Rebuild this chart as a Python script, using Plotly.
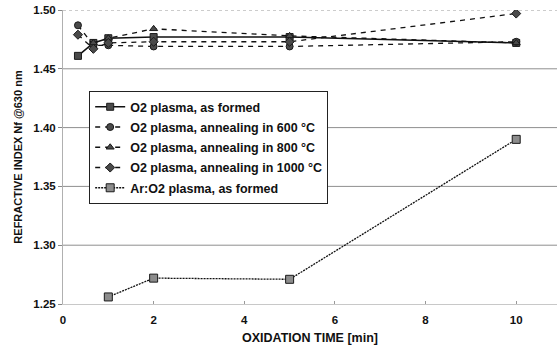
import plotly.graph_objects as go

# Oxidation time [min]
t_o2 = [0.33, 0.67, 1, 2, 5, 10]
t_600 = [0.33, 0.67, 1, 2, 5, 10]
t_800 = [0.67, 1, 2, 5, 10]
t_1000 = [0.33, 0.67, 1, 2, 5, 10]
t_ar = [1, 2, 5, 10]

# Refractive index Nf @630 nm
n_o2 = [1.461, 1.472, 1.476, 1.477, 1.477, 1.472]
n_600 = [1.487, 1.470, 1.470, 1.469, 1.469, 1.473]
n_800 = [1.472, 1.476, 1.484, 1.478, 1.472]
n_1000 = [1.479, 1.467, 1.472, 1.473, 1.473, 1.497]
n_ar = [1.256, 1.272, 1.271, 1.390]

names = [
    "O2 plasma, as formed",
    "O2 plasma, annealing in 600 °C",
    "O2 plasma, annealing in 800 °C",
    "O2 plasma, annealing in 1000 °C",
    "Ar:O2 plasma, as formed",
]

y_ticks = [1.25, 1.30, 1.35, 1.40, 1.45, 1.50]
x_ticks = [0, 2, 4, 6, 8, 10]
X_MAX = 10.9

FONT = "Liberation Sans, Arial, sans-serif"
mk_fill = "#4a4a4a"
mk_line = "#1a1a1a"

fig = go.Figure()

series = [
    (t_o2, n_o2, "solid", "square", 7, mk_fill),
    (t_600, n_600, "5px,5px", "circle", 7, mk_fill),
    (t_800, n_800, "5px,5px", "triangle-up", 7, mk_fill),
    (t_1000, n_1000, "5px,5px", "diamond", 7, mk_fill),
    (t_ar, n_ar, "2px,1px", "square", 8, "#8c8c8c"),
]

for i, ((xs, ys, dash, sym, size, fill), name) in enumerate(zip(series, names)):
    fig.add_trace(go.Scatter(
        x=xs, y=ys, name=name, mode="lines+markers", legendgroup=f"g{i}",
        line=dict(color="#111111", width=1.6 if dash == "solid" else 1.3, dash=dash),
        marker=dict(symbol=sym, size=size, color=fill,
                    line=dict(color=mk_line, width=1)),
    ))

# horizontal reference lines; the top boundary is dotted
shapes = []
for yv in y_ticks[1:-1]:
    shapes.append(dict(type="line", xref="paper", yref="y", x0=0, x1=1,
                       y0=yv, y1=yv, layer="below",
                       line=dict(color="#8f8f8f", width=1)))
shapes.append(dict(type="line", xref="paper", yref="y", x0=0, x1=1,
                   y0=y_ticks[-1], y1=y_ticks[-1], layer="below",
                   line=dict(color="#9a9a9a", width=1, dash="dot")))

fig.update_layout(
    width=557, height=350,
    margin=dict(l=63, r=0, t=10, b=46),
    paper_bgcolor="white", plot_bgcolor="white",
    font=dict(family=FONT, size=11, color="#111111"),
    shapes=shapes,
    showlegend=True,
    legend=dict(
        x=0.053, y=0.724, xanchor="left", yanchor="top",
        bgcolor="white", bordercolor="#222222", borderwidth=1,
        font=dict(family=FONT, size=12.5, color="#111111", weight="bold"),
        tracegroupgap=1,
        itemwidth=30,
    ),
    xaxis=dict(
        range=[0, X_MAX], tickvals=x_ticks,
        ticktext=[str(v) for v in x_ticks],
        showgrid=False, zeroline=False,
        showline=True, linecolor="#c8c8c8", linewidth=1,
        ticks="inside", ticklen=3, tickcolor="#999999",
        ticklabelstandoff=5,
        tickfont=dict(family=FONT, size=11.5, weight="bold"),
        title=dict(text="OXIDATION TIME [min]", standoff=8,
                   font=dict(family=FONT, size=12.5, weight="bold")),
    ),
    yaxis=dict(
        range=[y_ticks[0], y_ticks[-1]], tickvals=y_ticks,
        ticktext=[f"{v:.2f}" for v in y_ticks],
        showgrid=False, zeroline=False,
        showline=True, linecolor="#b0b0b0", linewidth=1,
        ticks="outside", ticklen=4, tickcolor="#888888",
        tickfont=dict(family=FONT, size=11.5, weight="bold"),
        title=dict(text="REFRACTIVE INDEX Nf @630 nm", standoff=8,
                   font=dict(family=FONT, size=11, weight="bold")),
    ),
)

fig.write_html("out.html")
